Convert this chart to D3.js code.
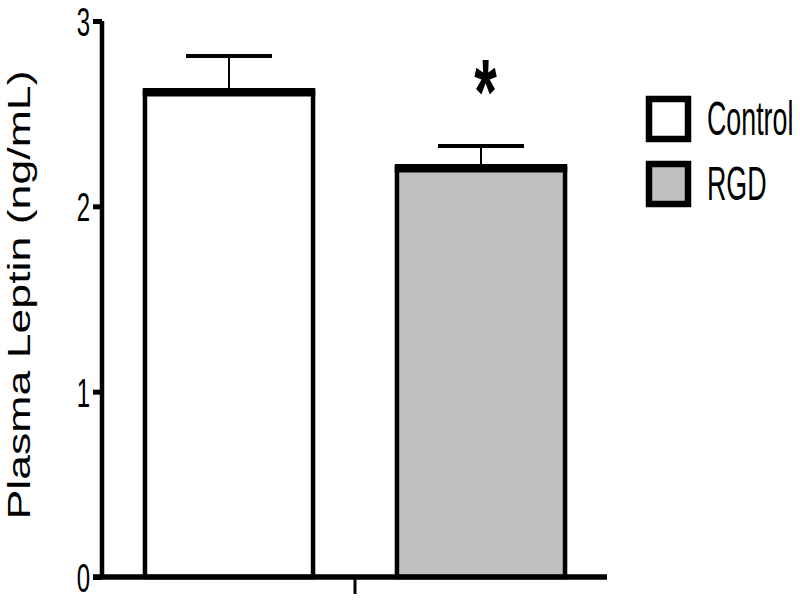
<!DOCTYPE html>
<html>
<head>
<meta charset="utf-8">
<script src="https://cdn.jsdelivr.net/npm/d3@7"></script>
<style>
  body { margin: 0; background: #fff; }
  svg { display: block; }
  text { font-family: "Liberation Sans", Arial, sans-serif; fill: #000; }
</style>
</head>
<body>
<div id="chart"></div>
<script>
var groups = ["Control", "RGD"];
var means = [2.615, 2.206];
var sems = [0.196, 0.12];
var fills = ["#ffffff", "#c0c0c0"];
var yTicks = [0, 1, 2, 3];
var yLabel = "Plasma Leptin (ng/mL)";
var marks = ["", "*"];

var width = 800, height = 602;

var svg = d3.select("#chart").append("svg")
    .attr("width", width)
    .attr("height", height);

var y = d3.scaleLinear().domain([0, 3]).range([577, 21]);

var xGroup = d3.scaleBand().domain([""]).range([103, 607]);
var x = d3.scaleBand().domain(groups).range([103, 607])
    .paddingInner(0.333).paddingOuter(0.1665);

// bars
var bars = svg.append("g");
groups.forEach(function (g, i) {
    bars.append("rect")
        .attr("x", x(g))
        .attr("y", y(means[i]))
        .attr("width", x.bandwidth())
        .attr("height", y(0) - y(means[i]))
        .style("fill", fills[i])
        .style("stroke", "#000")
        .style("stroke-width", 4.5);
    // thick top edge
    bars.append("line")
        .attr("x1", x(g) - 2.2)
        .attr("x2", x(g) + x.bandwidth() + 2.2)
        .attr("y1", y(means[i]))
        .attr("y2", y(means[i]))
        .style("stroke", "#000")
        .style("stroke-width", 8.5);
    // error bar
    var cx = x(g) + x.bandwidth() / 2;
    bars.append("line")
        .attr("x1", cx).attr("x2", cx)
        .attr("y1", y(means[i])).attr("y2", y(means[i] + sems[i]))
        .style("stroke", "#000").style("stroke-width", 2);
    bars.append("line")
        .attr("x1", cx - 43).attr("x2", cx + 43)
        .attr("y1", y(means[i] + sems[i])).attr("y2", y(means[i] + sems[i]))
        .style("stroke", "#000").style("stroke-width", 4);
    if (marks[i]) {
        svg.append("text")
            .attr("transform", "translate(" + (cx + 4.5) + "," + (y(means[i] + sems[i]) - 22) + ") scale(1,1.6)")
            .attr("text-anchor", "middle")
            .style("font-size", "58px")
            .style("font-weight", "bold")
            .text(marks[i]);
    }
});

// y axis
var yAxis = svg.append("g")
    .attr("transform", "translate(102,0)")
    .call(d3.axisLeft(y).tickValues(yTicks).tickSize(9).tickSizeOuter(0).tickFormat(d3.format("d")));
yAxis.select(".domain").style("stroke-width", 4.5).attr("d", "M0," + y(3) + "V" + (y(0) + 2));
yAxis.selectAll(".tick line").style("stroke-width", 5);
yAxis.selectAll(".tick text")
    .attr("x", -12)
    .attr("dy", null)
    .attr("y", 14.5 / 1.7)
    .attr("transform", "scale(1,1.7)")
    .style("font-size", "24px")
    .style("font-family", "'Liberation Sans', Arial, sans-serif")
    .attr("fill", "#000");

// x axis
var xAxis = svg.append("g")
    .attr("transform", "translate(0," + y(0) + ")")
    .call(d3.axisBottom(xGroup).tickSize(17).tickSizeOuter(0));
xAxis.select(".domain").style("stroke-width", 5.5).attr("d", "M93,0H607");
xAxis.selectAll(".tick line").style("stroke-width", 3);
xAxis.selectAll(".tick text").remove();

// y label
svg.append("text")
    .attr("transform", "translate(30,295) rotate(-90) scale(1.44,1)")
    .attr("text-anchor", "middle")
    .style("font-size", "31px")
    .text(yLabel);

// legend
var legend = svg.append("g");
groups.forEach(function (g, i) {
    var top = i === 0 ? 95 : 160;
    legend.append("rect")
        .attr("x", 649)
        .attr("y", top + 4)
        .attr("width", 39)
        .attr("height", 40)
        .style("fill", fills[i])
        .style("stroke", "#000")
        .style("stroke-width", 6.5);
    legend.append("text")
        .attr("transform", "translate(707," + (top + 40) + ") scale(1,1.78)")
        .style("font-size", "26.8px")
        .text(g);
});
</script>
</body>
</html>
